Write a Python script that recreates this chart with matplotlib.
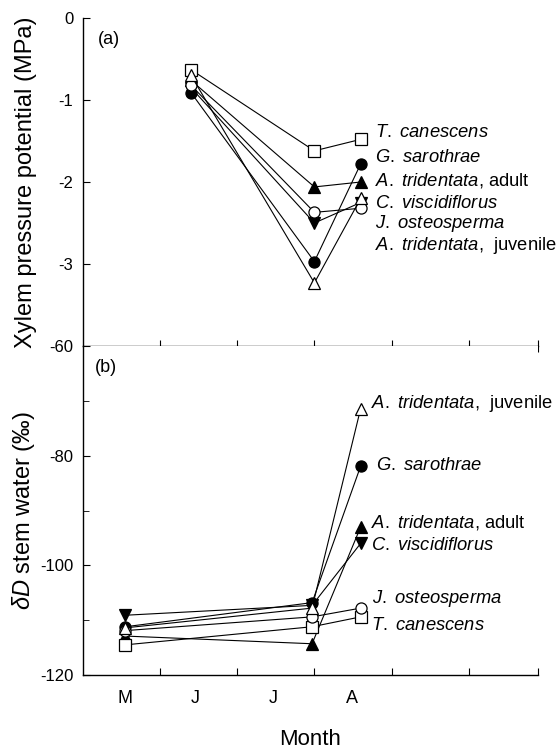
import matplotlib
matplotlib.use("Agg")
import matplotlib.pyplot as plt

plt.rcParams["font.family"] = ["Liberation Sans", "DejaVu Sans"]
plt.rcParams["mathtext.fontset"] = "custom"
plt.rcParams["mathtext.rm"] = "Liberation Sans"
plt.rcParams["mathtext.it"] = "Liberation Sans:italic"
plt.rcParams["mathtext.bf"] = "Liberation Sans:bold"
plt.rcParams["axes.unicode_minus"] = False

# %% Data
# month axis: 0 = start of May, 1 = start of June, ...
species = ["T. canescens", "G. sarothrae", "A. tridentata, adult",
           "C. viscidiflorus", "J. osteosperma", "A. tridentata, juvenile"]

# (a) xylem pressure potential, MPa
xpp_dates = [1.4, 3.0, 3.6]
xpp_tcan = [-0.63, -1.62, -1.48]
xpp_gsar = [-0.91, -2.97, -1.78]
xpp_atad = [-0.76, -2.06, -2.00]
xpp_cvis = [-0.85, -2.50, -2.25]
xpp_jost = [-0.82, -2.37, -2.32]
xpp_atju = [-0.70, -3.23, -2.20]

# (b) delta D of stem water, per mil
dd_dates = [0.55, 2.97, 3.6]
dd_tcan = [-114.5, -111.2, -109.4]
dd_gsar = [-111.2, -106.8, -81.9]
dd_atad = [-112.9, -114.3, -93.0]
dd_cvis = [-109.1, -107.3, -96.0]
dd_jost = [-111.9, -109.4, -107.8]
dd_atju = [-111.4, -107.8, -71.4]

month_labels = ["M", "J", "J", "A"]

# marker style per species (marker, face colour)
styles = {
    "T. canescens": ("s", "white"),
    "G. sarothrae": ("o", "black"),
    "A. tridentata, adult": ("^", "black"),
    "C. viscidiflorus": ("v", "black"),
    "J. osteosperma": ("o", "white"),
    "A. tridentata, juvenile": ("^", "white"),
}

label_tex = {
    "T. canescens": r"$\mathit{T.\ canescens}$",
    "G. sarothrae": r"$\mathit{G.\ sarothrae}$",
    "A. tridentata, adult": r"$\mathit{A.\ tridentata}$, adult",
    "C. viscidiflorus": r"$\mathit{C.\ viscidiflorus}$",
    "J. osteosperma": r"$\mathit{J.\ osteosperma}$",
    "A. tridentata, juvenile": r"$\mathit{A.\ tridentata}$,  juvenile",
}

xpp = [xpp_tcan, xpp_gsar, xpp_atad, xpp_cvis, xpp_jost, xpp_atju]
dd = [dd_tcan, dd_gsar, dd_atad, dd_cvis, dd_jost, dd_atju]

# label positions (x, y in data units)
xpp_label_pos = [(3.79, -1.40), (3.79, -1.70), (3.79, -1.98),
                 (3.79, -2.26), (3.79, -2.51), (3.79, -2.77)]
dd_label_pos = [(3.74, -110.9), (3.80, -81.7), (3.73, -92.1),
                (3.74, -96.3), (3.75, -106.0), (3.73, -70.4)]

# %% Plot
fig = plt.figure(figsize=(5.59, 7.49), dpi=100)
ax1 = fig.add_axes([0.1485, 0.538, 0.814, 0.438])
ax2 = fig.add_axes([0.1485, 0.0988, 0.814, 0.4392])

draw_order = [3, 2, 0, 1, 4, 5]
for i in draw_order:
    name = species[i]
    m, fc = styles[name]
    ax1.plot(xpp_dates, xpp[i], color="black", lw=0.8, marker=m, ms=8,
             mfc=fc, mec="black", mew=0.9)
    ax2.plot(dd_dates, dd[i], color="black", lw=0.8, marker=m, ms=8,
             mfc=fc, mec="black", mew=0.9)

for i, name in enumerate(species):
    x, y = xpp_label_pos[i]
    ax1.text(x, y, label_tex[name], fontsize=13.2, va="center", ha="left")
    x, y = dd_label_pos[i]
    ax2.text(x, y, label_tex[name], fontsize=13.2, va="center", ha="left")

for ax in (ax1, ax2):
    ax.set_xlim(0, 5.9)
    ax.set_xticks([1, 2, 3, 4, 5, 5.9])
    ax.spines["top"].set_visible(False)
    ax.spines["right"].set_visible(False)
    ax.spines["left"].set_linewidth(1.0)
    ax.spines["bottom"].set_linewidth(1.0)
    ax.tick_params(axis="y", direction="in", length=5, labelsize=12, pad=7)

ax1.set_ylim(-4, 0)
ax1.set_yticks([0, -1, -2, -3])
ax1.set_xticklabels([])
ax1.tick_params(axis="x", direction="inout", length=9)
ax1.set_ylabel("Xylem pressure potential (MPa)", fontsize=17)
ax1.yaxis.set_label_coords(-0.101, 0.5)
ax1.text(0.033, 0.935, "(a)", transform=ax1.transAxes, fontsize=13,
         va="center")

ax2.set_ylim(-120, -60)
ax2.set_yticks([-120, -100, -80, -60])
ax2.set_yticks([-110, -90, -70], minor=True)
ax2.tick_params(axis="y", which="minor", direction="in", length=4)
ax2.set_xticklabels([])
ax2.tick_params(axis="x", direction="in", length=5)
ax2.set_xticks([0.55, 1.45, 2.47, 3.49], minor=True)
ax2.set_xticklabels(month_labels, minor=True, fontsize=13)
ax2.tick_params(axis="x", which="minor", length=0, pad=11)
ax2.set_ylabel(r"$\delta\mathit{D}$ stem water (‰)", fontsize=17)
ax2.yaxis.set_label_coords(-0.101, 0.5)
ax2.set_xlabel("Month", fontsize=16, labelpad=16)
ax2.text(0.026, 0.935, "(b)", transform=ax2.transAxes, fontsize=13,
         va="center")

fig.savefig("out.png", dpi=100)
